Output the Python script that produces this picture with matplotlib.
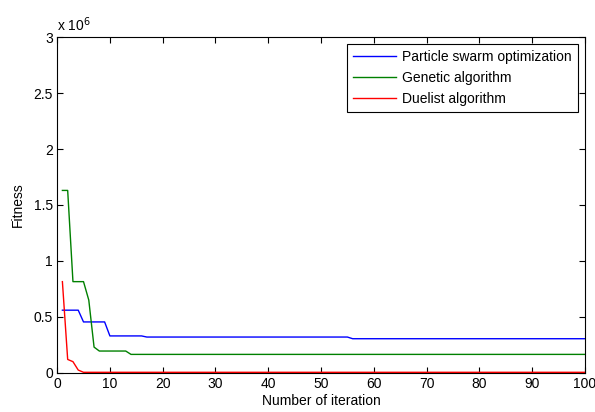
import matplotlib
matplotlib.use('Agg')
import matplotlib.pyplot as plt
from matplotlib.ticker import FuncFormatter

plt.rcParams['font.family'] = ['Liberation Sans', 'DejaVu Sans']

# iterations where each curve changes, and fitness values at those points
pso_iter = [1, 4, 5, 9, 10, 16, 17, 55, 56, 100]
pso_fit = [560000, 560000, 455000, 455000, 330000, 330000, 320000, 320000, 305000, 305000]

ga_iter = [1, 2, 3, 5, 6, 7, 8, 13, 14, 100]
ga_fit = [1630000, 1630000, 815000, 815000, 650000, 230000, 195000, 195000, 165000, 165000]

da_iter = [1, 2, 3, 4, 5, 100]
da_fit = [815000, 120000, 100000, 25000, 5000, 5000]

x_ticks = list(range(0, 101, 10))
y_ticks = [0, 500000, 1000000, 1500000, 2000000, 2500000, 3000000]

fig = plt.figure(figsize=(5.95, 4.12), dpi=100)
ax = fig.add_axes([0.096, 0.095, 0.887, 0.815])

ax.plot(pso_iter, pso_fit, color=(0, 0, 1), lw=1, label='Particle swarm optimization')
ax.plot(ga_iter, ga_fit, color=(0, 0.5, 0), lw=1, label='Genetic algorithm')
ax.plot(da_iter, da_fit, color=(1, 0, 0), lw=1, label='Duelist algorithm')

ax.set_xlim(0, 100)
ax.set_ylim(0, 3000000)
ax.set_xticks(x_ticks)
ax.set_yticks(y_ticks)
ax.yaxis.set_major_formatter(FuncFormatter(lambda v, p: f'{v / 1e6:g}'))
ax.tick_params(direction='in', top=True, right=True, length=4, labelsize=10, pad=3)
for s in ax.spines.values():
    s.set_linewidth(0.8)

ax.text(0.0, 1.01, 'x 10$^6$', transform=ax.transAxes, fontsize=10, va='bottom', ha='left')

ax.set_xlabel('Number of iteration', fontsize=10, labelpad=2)
ax.set_ylabel('Fitness', fontsize=10, labelpad=6)

leg = ax.legend(loc='upper right', fontsize=10, fancybox=False, framealpha=1,
                edgecolor='black', handlelength=3.1, handletextpad=0.45,
                labelspacing=0.5, borderaxespad=0.5, borderpad=0.45)
leg.get_frame().set_linewidth(0.8)

plt.savefig('out.png', dpi=100)
